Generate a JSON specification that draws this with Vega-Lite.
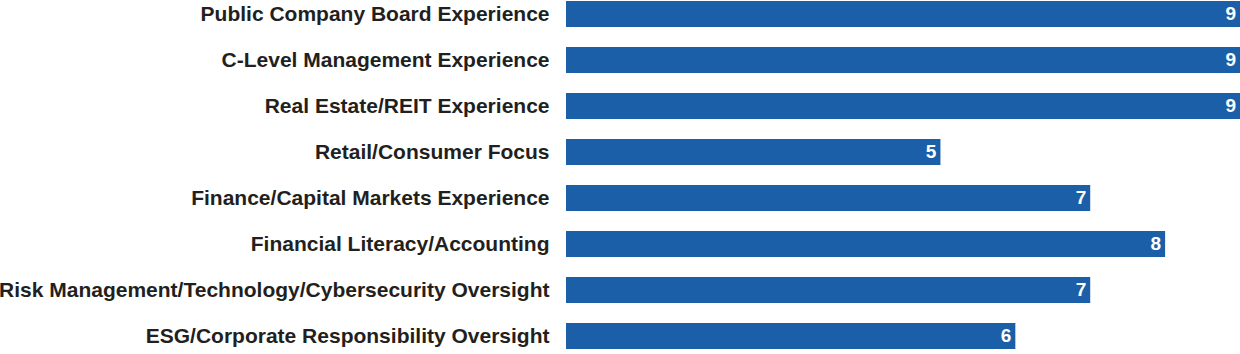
{
  "$schema": "https://vega.github.io/schema/vega-lite/v6.json",
  "autosize": {"type": "none"},
  "padding": {"left": 566, "top": 0, "right": 0, "bottom": 0},
  "width": 674,
  "height": 350,
  "background": "white",
  "config": {"view": {"stroke": null}, "font": "Liberation Sans"},
  "data": {"values": [
    {"skill": "Public Company Board Experience", "count": 9},
    {"skill": "C-Level Management Experience", "count": 9},
    {"skill": "Real Estate/REIT Experience", "count": 9},
    {"skill": "Retail/Consumer Focus", "count": 5},
    {"skill": "Finance/Capital Markets Experience", "count": 7},
    {"skill": "Financial Literacy/Accounting", "count": 8},
    {"skill": "Risk Management/Technology/Cybersecurity Oversight", "count": 7},
    {"skill": "ESG/Corporate Responsibility Oversight", "count": 6}
  ]},
  "encoding": {
    "y": {"field": "skill", "type": "nominal", "sort": null,
      "scale": {"paddingInner": 0.435, "paddingOuter": 0.022},
      "axis": {"title": null, "ticks": false, "domain": false, "labelPadding": 17, "labelOffset": 1,
        "labelFont": "Liberation Sans", "labelFontWeight": "bold", "labelFontSize": 21,
        "labelColor": "#231f20", "labelLimit": 0}},
    "x": {"field": "count", "type": "quantitative", "scale": {"domain": [0, 9], "nice": false},
      "axis": null}
  },
  "layer": [
    {"mark": {"type": "bar", "color": "#1b5fa9"}},
    {"mark": {"type": "text", "align": "right", "dx": -4, "dy": 0, "baseline": "middle",
      "color": "white", "fontWeight": "bold", "fontSize": 19, "font": "Liberation Sans"},
     "encoding": {"text": {"field": "count", "type": "quantitative"}}}
  ]
}
